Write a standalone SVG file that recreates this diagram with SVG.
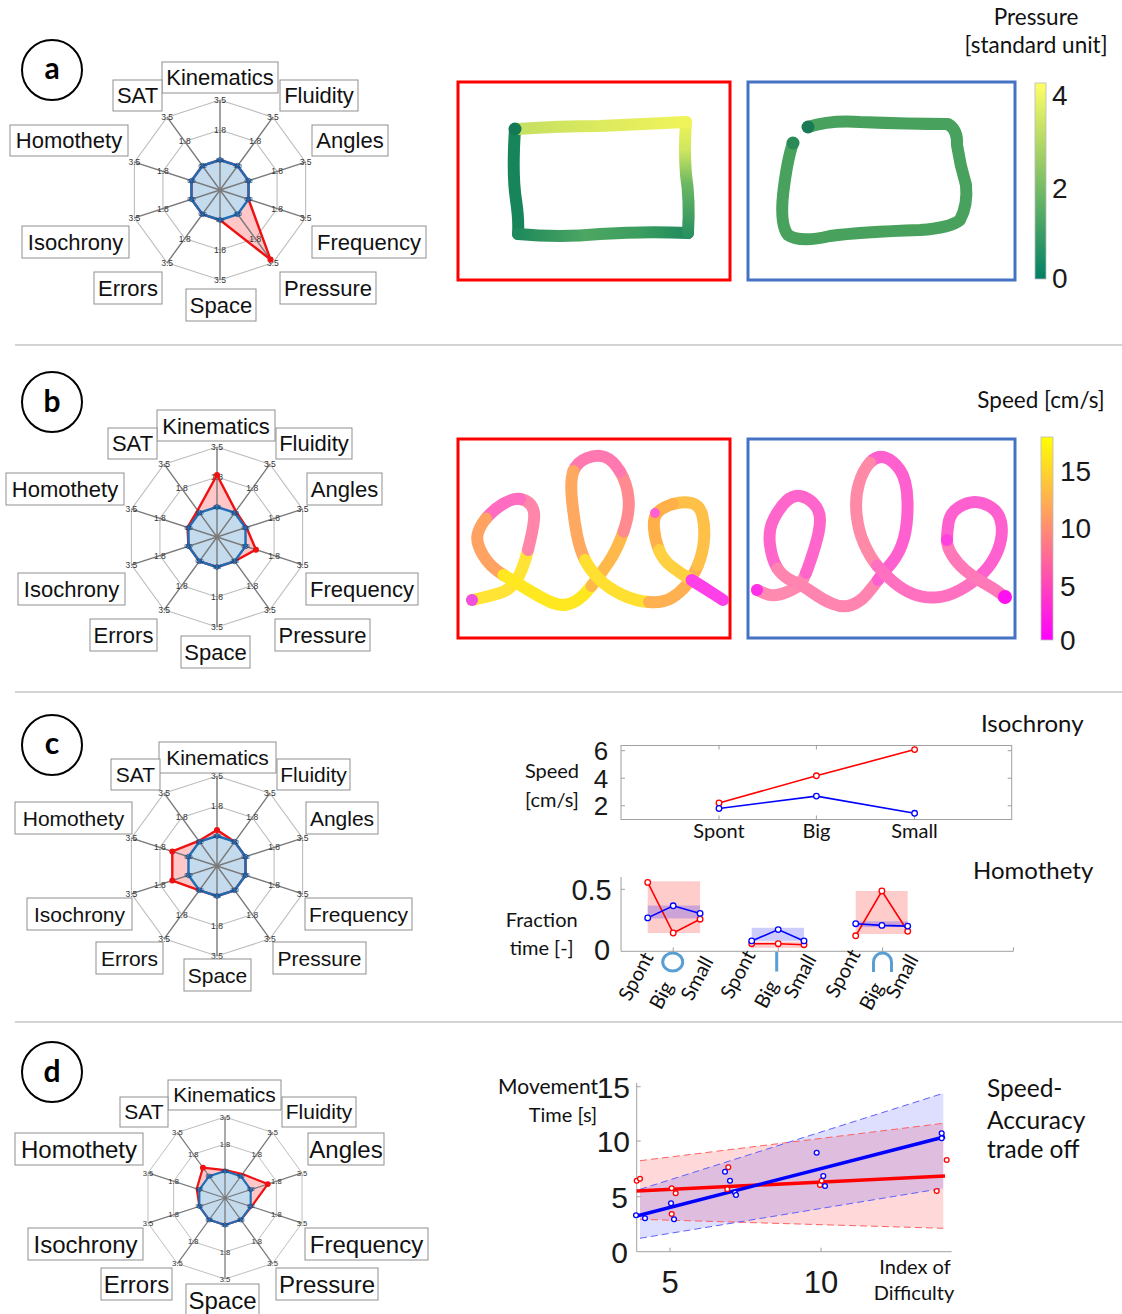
<svg xmlns="http://www.w3.org/2000/svg" width="1122" height="1314" viewBox="0 0 1122 1314">
<style>
.ring{fill:none;stroke:#bdbdbd;stroke-width:1.1}
.spk{fill:none;stroke:#7a7a7a;stroke-width:1.4}
.tk{font-family:"Liberation Sans",Arial,sans-serif;font-size:8.5px;fill:#333;text-anchor:middle}
.t0{font-family:"Liberation Sans",Arial,sans-serif;font-size:6px;fill:#1a3f70;text-anchor:middle}
.bf{fill:#c4dbee}
.bs{fill:none;stroke:#1f6db5;stroke-width:2.4;stroke-linejoin:round}
.bm{fill:none;stroke:#1a5a9a;stroke-width:1}
.rf{fill:#ff0000;fill-opacity:.22}
.rs{fill:none;stroke:#ee1111;stroke-width:2.4;stroke-linejoin:round}
.rd{fill:#ee1111}
.box{fill:#fff;stroke:#8f8f8f;stroke-width:1}
.lab{font-family:"Liberation Sans",Arial,sans-serif;font-size:22px;fill:#111;text-anchor:middle}
.l21{font-size:21px}
.l24{font-size:24px}
.pc{fill:#fff;stroke:#000;stroke-width:2}
.pl{font-family:Lato,"Open Sans",sans-serif;font-weight:bold;font-size:30px;text-anchor:middle;fill:#000}
.cal{font-family:Lato,"Open Sans",sans-serif;font-size:20px;fill:#111}
.c21{font-size:21px}
.c22{font-size:22.5px}
.c24{font-size:24px}
.c25{font-size:24.5px}
.mid{text-anchor:middle}
.end{text-anchor:end}
.num{font-family:"Liberation Sans",Arial,sans-serif;fill:#1a1a1a}
.sep{stroke:#c4c4c4;stroke-width:1.5}
.ax{fill:none;stroke:#a0a0a0;stroke-width:1}
.ink{fill:none;stroke-linecap:round;stroke-linejoin:round;stroke-width:12}
.pr{fill:#fff;stroke:#ff0000;stroke-width:1.3}
.pb{fill:#fff;stroke:#0000ff;stroke-width:1.3}
.lr{fill:none;stroke:#ff0000;stroke-width:1.6}
.lb{fill:none;stroke:#0000ff;stroke-width:1.6}
.sym{fill:none;stroke:#5a9fd4;stroke-width:3}
</style>
<defs>
<linearGradient id="cbA" x1="0" y1="1" x2="0" y2="0"><stop offset="0" stop-color="#008066"/><stop offset="1" stop-color="#ffff66"/></linearGradient>
<linearGradient id="cbB" x1="0" y1="1" x2="0" y2="0"><stop offset="0" stop-color="#ff00ff"/><stop offset="1" stop-color="#ffff00"/></linearGradient>
<linearGradient id="gTop" gradientUnits="userSpaceOnUse" x1="515" y1="0" x2="686" y2="0"><stop offset="0" stop-color="#c4df62"/><stop offset=".5" stop-color="#dcea5e"/><stop offset="1" stop-color="#f0f45a"/></linearGradient>
<linearGradient id="gRight" gradientUnits="userSpaceOnUse" x1="0" y1="234" x2="0" y2="122"><stop offset="0" stop-color="#2a9160"/><stop offset=".45" stop-color="#6db862"/><stop offset=".75" stop-color="#cfe65e"/><stop offset="1" stop-color="#eef45a"/></linearGradient>
<linearGradient id="gBot" gradientUnits="userSpaceOnUse" x1="518" y1="0" x2="688" y2="0"><stop offset="0" stop-color="#1f8a5c"/><stop offset=".4" stop-color="#4da662"/><stop offset=".7" stop-color="#3d9e60"/><stop offset="1" stop-color="#1f8a5c"/></linearGradient>
<g id="rings">
<polygon class="ring" points="0,-90 52.9,-72.81 85.6,-27.81 85.6,27.81 52.9,72.81 0,90 -52.9,72.81 -85.6,27.81 -85.6,-27.81 -52.9,-72.81"/>
<polygon class="ring" points="0,-60 35.27,-48.54 57.07,-18.54 57.07,18.54 35.27,48.54 0,60 -35.27,48.54 -57.07,18.54 -57.07,-18.54 -35.27,-48.54"/>
</g>
<polygon id="bpoly" points="0,-30 17.63,-24.27 28.53,-9.27 28.53,9.27 17.63,24.27 0,30 -17.63,24.27 -28.53,9.27 -28.53,-9.27 -17.63,-24.27"/>
<g id="spokes">
<path class="spk" d="M0,0L0,-90M0,0L52.9,-72.81M0,0L85.6,-27.81M0,0L85.6,27.81M0,0L52.9,72.81M0,0L0,90M0,0L-52.9,72.81M0,0L-85.6,27.81M0,0L-85.6,-27.81M0,0L-52.9,-72.81"/>
<g class="tk">
<text x="0" y="-87">3.5</text><text x="52.9" y="-69.81">3.5</text><text x="85.6" y="-24.81">3.5</text><text x="85.6" y="30.81">3.5</text><text x="52.9" y="75.81">3.5</text><text x="0" y="93">3.5</text><text x="-52.9" y="75.81">3.5</text><text x="-85.6" y="30.81">3.5</text><text x="-85.6" y="-24.81">3.5</text><text x="-52.9" y="-69.81">3.5</text>
<text x="0" y="-57">1.8</text><text x="35.27" y="-45.54">1.8</text><text x="57.07" y="-15.54">1.8</text><text x="57.07" y="21.54">1.8</text><text x="35.27" y="51.54">1.8</text><text x="0" y="63">1.8</text><text x="-35.27" y="51.54">1.8</text><text x="-57.07" y="21.54">1.8</text><text x="-57.07" y="-15.54">1.8</text><text x="-35.27" y="-45.54">1.8</text>
</g>
</g>
<g id="bmk">
<g class="bm"><circle cx="0" cy="-30" r="2.4"/><circle cx="17.63" cy="-24.27" r="2.4"/><circle cx="28.53" cy="-9.27" r="2.4"/><circle cx="28.53" cy="9.27" r="2.4"/><circle cx="17.63" cy="24.27" r="2.4"/><circle cx="0" cy="30" r="2.4"/><circle cx="-17.63" cy="24.27" r="2.4"/><circle cx="-28.53" cy="9.27" r="2.4"/><circle cx="-28.53" cy="-9.27" r="2.4"/><circle cx="-17.63" cy="-24.27" r="2.4"/></g>
<g class="t0"><text x="0" y="-28">0.0</text><text x="17.63" y="-22.27">0.0</text><text x="28.53" y="-7.27">0.0</text><text x="28.53" y="11.27">0.0</text><text x="17.63" y="26.27">0.0</text><text x="0" y="32">0.0</text><text x="-17.63" y="26.27">0.0</text><text x="-28.53" y="11.27">0.0</text><text x="-28.53" y="-7.27">0.0</text><text x="-17.63" y="-22.27">0.0</text></g>
</g>
</defs>
<rect width="1122" height="1314" fill="#fff"/>

<g id="separators">
<line class="sep" x1="15" y1="345" x2="1122" y2="345"/>
<line class="sep" x1="15" y1="692" x2="1122" y2="692"/>
<line class="sep" x1="15" y1="1022" x2="1122" y2="1022"/>
</g>

<g id="label-a"><circle class="pc" cx="52" cy="70" r="30"/><text class="pl" x="52" y="79">a</text></g>
<g id="label-b"><circle class="pc" cx="52" cy="402" r="30"/><text class="pl" x="52" y="412">b</text></g>
<g id="label-c"><circle class="pc" cx="52" cy="745" r="30"/><text class="pl" x="52" y="754">c</text></g>
<g id="label-d"><circle class="pc" cx="52" cy="1072" r="30"/><text class="pl" x="52" y="1082">d</text></g>

<g id="radar-a" transform="translate(220,190)">
<use href="#rings"/>
<polygon class="rf" points="0,-30 17.63,-24.27 28.53,-9.27 28.53,9.27 50.55,69.57 0,30 -17.63,24.27 -28.53,9.27 -28.53,-9.27 -17.63,-24.27"/>
<use href="#bpoly" class="bf"/>
<use href="#spokes"/>
<polygon class="rs" points="0,-30 17.63,-24.27 28.53,-9.27 28.53,9.27 50.55,69.57 0,30 -17.63,24.27 -28.53,9.27 -28.53,-9.27 -17.63,-24.27"/>
<use href="#bpoly" class="bs"/>
<use href="#bmk"/>
<circle class="rd" cx="50.55" cy="69.57" r="3"/>
</g>
<g id="labels-a">
<rect class="box" x="162" y="62" width="116" height="31"/><text class="lab" x="220" y="85">Kinematics</text>
<rect class="box" x="113" y="80" width="49" height="31"/><text class="lab" x="137.5" y="103">SAT</text>
<rect class="box" x="280" y="80" width="78" height="31"/><text class="lab" x="319" y="103">Fluidity</text>
<rect class="box" x="10" y="125" width="118" height="31"/><text class="lab" x="69" y="148">Homothety</text>
<rect class="box" x="312" y="125" width="76" height="31"/><text class="lab" x="350" y="148">Angles</text>
<rect class="box" x="22" y="226" width="107" height="32"/><text class="lab" x="75.5" y="250">Isochrony</text>
<rect class="box" x="312" y="226" width="114" height="32"/><text class="lab" x="369" y="250">Frequency</text>
<rect class="box" x="94" y="272" width="68" height="32"/><text class="lab" x="128" y="296">Errors</text>
<rect class="box" x="280" y="272" width="96" height="32"/><text class="lab" x="328" y="296">Pressure</text>
<rect class="box" x="186" y="289" width="70" height="32"/><text class="lab" x="221" y="313">Space</text>
</g>

<g id="radar-b" transform="translate(217,537)">
<use href="#rings"/>
<polygon class="rf" points="0,-62 18.81,-25.89 29.48,-9.58 38.99,12.67 17.63,24.27 0,30 -17.63,24.27 -28.53,9.27 -29.48,-9.58 -19.4,-26.7"/>
<use href="#bpoly" class="bf"/>
<use href="#spokes"/>
<polygon class="rs" points="0,-62 18.81,-25.89 29.48,-9.58 38.99,12.67 17.63,24.27 0,30 -17.63,24.27 -28.53,9.27 -29.48,-9.58 -19.4,-26.7"/>
<use href="#bpoly" class="bs"/>
<use href="#bmk"/>
<circle class="rd" cx="0" cy="-62" r="3"/><circle class="rd" cx="38.99" cy="12.67" r="3"/>
</g>
<g id="labels-b">
<rect class="box" x="157" y="410" width="118" height="31"/><text class="lab" x="216" y="434">Kinematics</text>
<rect class="box" x="108" y="428" width="49" height="31"/><text class="lab" x="132.5" y="451">SAT</text>
<rect class="box" x="276" y="428" width="76" height="31"/><text class="lab" x="314" y="451">Fluidity</text>
<rect class="box" x="6" y="473" width="118" height="32"/><text class="lab" x="65" y="497">Homothety</text>
<rect class="box" x="307" y="473" width="75" height="32"/><text class="lab" x="344.5" y="497">Angles</text>
<rect class="box" x="18" y="573" width="107" height="32"/><text class="lab" x="71.5" y="597">Isochrony</text>
<rect class="box" x="306" y="573" width="112" height="32"/><text class="lab" x="362" y="597">Frequency</text>
<rect class="box" x="90" y="619" width="67" height="32"/><text class="lab" x="123.5" y="643">Errors</text>
<rect class="box" x="275" y="619" width="95" height="32"/><text class="lab" x="322.5" y="643">Pressure</text>
<rect class="box" x="181" y="636" width="69" height="32"/><text class="lab" x="215.5" y="660">Space</text>
</g>

<g id="radar-c" transform="translate(217,866)">
<use href="#rings"/>
<polygon class="rf" points="0,-36 17.63,-24.27 28.53,-9.27 28.53,9.27 17.63,24.27 0,30 -17.63,24.27 -44.7,14.52 -44.7,-14.52 -18.22,-25.08"/>
<use href="#bpoly" class="bf"/>
<use href="#spokes"/>
<polygon class="rs" points="0,-36 17.63,-24.27 28.53,-9.27 28.53,9.27 17.63,24.27 0,30 -17.63,24.27 -44.7,14.52 -44.7,-14.52 -18.22,-25.08"/>
<use href="#bpoly" class="bs"/>
<use href="#bmk"/>
<circle class="rd" cx="0" cy="-36" r="3"/><circle class="rd" cx="-44.7" cy="14.52" r="3"/><circle class="rd" cx="-44.7" cy="-14.52" r="3"/>
</g>
<g id="labels-c">
<rect class="box" x="159" y="742" width="117" height="31"/><text class="lab l21" x="217.5" y="765">Kinematics</text>
<rect class="box" x="111" y="759" width="49" height="31"/><text class="lab l21" x="135.5" y="782">SAT</text>
<rect class="box" x="277" y="759" width="73" height="31"/><text class="lab l21" x="313.5" y="782">Fluidity</text>
<rect class="box" x="15" y="802" width="117" height="32"/><text class="lab l21" x="73.5" y="826">Homothety</text>
<rect class="box" x="306" y="802" width="72" height="32"/><text class="lab l21" x="342" y="826">Angles</text>
<rect class="box" x="27" y="898" width="105" height="32"/><text class="lab l21" x="79.5" y="922">Isochrony</text>
<rect class="box" x="305" y="898" width="107" height="32"/><text class="lab l21" x="358.5" y="922">Frequency</text>
<rect class="box" x="96" y="942" width="67" height="32"/><text class="lab l21" x="129.5" y="966">Errors</text>
<rect class="box" x="273" y="942" width="93" height="32"/><text class="lab l21" x="319.5" y="966">Pressure</text>
<rect class="box" x="184" y="959" width="67" height="32"/><text class="lab l21" x="217.5" y="983">Space</text>
</g>

<g id="radar-d" transform="translate(225,1198) scale(0.9)">
<use href="#rings"/>
<polygon class="rf" points="0,-31 19.4,-26.7 47.55,-15.45 29.48,9.58 17.63,24.27 0,30 -17.63,24.27 -28.53,9.27 -31.39,-10.2 -24.51,-33.73"/>
<use href="#bpoly" class="bf"/>
<use href="#spokes"/>
<polygon class="rs" points="0,-31 19.4,-26.7 47.55,-15.45 29.48,9.58 17.63,24.27 0,30 -17.63,24.27 -28.53,9.27 -31.39,-10.2 -24.51,-33.73"/>
<use href="#bpoly" class="bs"/>
<use href="#bmk"/>
<circle class="rd" cx="-24.51" cy="-33.73" r="3.3"/><circle class="rd" cx="47.55" cy="-15.45" r="3.3"/>
</g>
<g id="labels-d">
<rect class="box" x="168" y="1080" width="113" height="30"/><text class="lab l21" x="224.5" y="1102">Kinematics</text>
<rect class="box" x="120" y="1097" width="48" height="30"/><text class="lab l21" x="144" y="1119">SAT</text>
<rect class="box" x="282" y="1097" width="74" height="30"/><text class="lab l21" x="319" y="1119">Fluidity</text>
<rect class="box" x="15" y="1133" width="128" height="32"/><text class="lab l24" x="79" y="1158">Homothety</text>
<rect class="box" x="308" y="1133" width="76" height="32"/><text class="lab l24" x="346" y="1158">Angles</text>
<rect class="box" x="28" y="1228" width="115" height="32"/><text class="lab l24" x="85.5" y="1253">Isochrony</text>
<rect class="box" x="305" y="1228" width="123" height="32"/><text class="lab l24" x="366.5" y="1253">Frequency</text>
<rect class="box" x="101" y="1268" width="71" height="32"/><text class="lab l24" x="136.5" y="1293">Errors</text>
<rect class="box" x="276" y="1268" width="102" height="32"/><text class="lab l24" x="327" y="1293">Pressure</text>
<rect class="box" x="186" y="1284" width="73" height="32"/><text class="lab l24" x="222.5" y="1309">Space</text>
</g>

<g id="rect-fast">
<rect x="458" y="82" width="272" height="198" fill="none" stroke="#ff0000" stroke-width="3"/>
<path class="ink" stroke="#17845a" d="M515,129 Q512,175 516,200 Q519,220 518,234"/>
<path class="ink" stroke="url(#gBot)" d="M518,234 Q560,238 600,234 Q645,231 688,233"/>
<path class="ink" stroke="url(#gRight)" d="M688,233 Q690,200 686,175 Q684,150 686,122"/>
<path class="ink" stroke="url(#gTop)" d="M517,129 Q560,126 600,126 Q645,124 686,122"/>
<circle cx="515" cy="129" r="6.5" fill="#137a55"/>
</g>
<g id="rect-slow">
<rect x="748" y="82" width="267" height="198" fill="none" stroke="#4472c4" stroke-width="3"/>
<path class="ink" stroke="#48a25e" d="M808,127 Q830,120 860,122 Q910,124 948,124 Q958,130 957,145 Q960,165 966,185 Q968,205 960,220 Q950,228 920,230 Q860,232 830,236 Q800,243 788,235 Q780,225 783,195 Q787,160 793,143"/>
<circle cx="808" cy="127" r="6.5" fill="#1a7a55"/>
<circle cx="793" cy="143" r="6.5" fill="#2a8a58"/>
</g>
<g id="colorbar-a">
<text class="cal c22 mid" x="1036" y="25">Pressure</text>
<text class="cal c22 mid" x="1036" y="53">[standard unit]</text>
<rect x="1035" y="83" width="11" height="196" fill="url(#cbA)" stroke="#bbb" stroke-width=".8"/>
<g class="num" font-size="28"><text x="1052" y="105">4</text><text x="1052" y="198">2</text><text x="1052" y="288">0</text></g>
</g>

<g id="ele-fast">
<rect x="458" y="439" width="272" height="199" fill="none" stroke="#ff0000" stroke-width="3"/>
<g class="ink">
<path stroke="#ffe436" d="M472,600 L481,598 Q490,596 500,593 Q510,590 516.5,580 Q523,570 528,550"/>
<path stroke="#ff86a8" d="M528,550 Q533,530 534,520 Q535,510 531,505 Q527,500 520,499"/>
<path stroke="#ff6cc0" d="M520,499 Q513,498 503,504 Q493,510 486,518.5"/>
<path stroke="#ffa262" d="M486,518.5 Q479,527 477.5,535 Q476,543 483,555 Q490,567 503.5,575"/>
<path stroke="#ffe820" d="M503.5,575 Q517,583 533.5,593 Q550,603 558.5,604.5 Q567,606 575,601.5 Q583,597 591.5,586"/>
<path stroke="#ffb84a" d="M591.5,586 Q600,575 608.5,562.5 Q617,550 623.5,531.5"/>
<path stroke="#ff8a90" d="M623.5,531.5 Q630,513 628.5,498 Q627,483 620,471.5"/>
<path stroke="#ff78b0" d="M620,471.5 Q613,460 605,457 Q597,454 587,458 Q577,462 573.5,471"/>
<path stroke="#ffa860" d="M573.5,471 Q570,480 572,500 Q574,520 577,535 Q580,550 585,560"/>
<path stroke="#ffe030" d="M585,560 Q590,570 599,579 Q608,588 621.5,594.5 Q635,601 649,602"/>
<path stroke="#ffb050" d="M649,602 Q663,603 671.5,598 Q680,593 686.5,585 Q693,577 698,565"/>
<path stroke="#ffc048" d="M698,565 Q703,553 704,540 Q705,527 702.5,516 Q700,505 691.5,503 Q683,501 673,504"/>
<path stroke="#ffb048" d="M673,504 Q663,507 658,512 Q653,517 654,528.5 Q655,540 659,550"/>
<path stroke="#ffd040" d="M659,550 Q663,560 671.5,566.5 Q680,573 691.5,580"/>
<path stroke="#ff40e8" d="M691.5,580 Q703,587 713,593.5 L723,600"/>
</g>
<circle cx="472" cy="600" r="6" fill="#f050e0"/>
<circle cx="655" cy="513" r="5" fill="#ff60d0"/>
</g>
<g id="ele-slow">
<rect x="748" y="439" width="267" height="199" fill="none" stroke="#4472c4" stroke-width="3"/>
<g class="ink">
<path stroke="#ff8ab0" d="M757,590 L765,593.5 Q773,597 783,593.5 Q793,590 797.5,586.5 Q802,583 806,573"/>
<path stroke="#ff66cc" d="M806,573 Q810,563 815,546.5 Q820,530 820,520 Q820,510 813.5,503.5 Q807,497 800,496 Q793,495 786.5,501 Q780,507 774,518.5 Q768,530 770,545 Q772,560 777.5,568.5"/>
<path stroke="#ff84b0" d="M777.5,568.5 Q783,577 792.5,581 Q802,585 812.5,592.5 Q823,600 833,604 Q843,608 851.5,605 Q860,602 866.5,594.5 Q873,587 878,580"/>
<path stroke="#ff60d0" d="M878,580 Q883,573 891.5,563 Q900,553 904,538 Q908,523 907.5,501.5 Q907,480 900,470 Q893,460 885,457.5 Q877,455 870,462.5"/>
<path stroke="#ff8aa8" d="M870,462.5 Q863,470 859,483.5 Q855,497 856.5,513.5 Q858,530 864,543.5 Q870,557 877,565.5"/>
<path stroke="#ff70c0" d="M877,565.5 Q884,574 893.5,582 Q903,590 913,594 Q923,598 935,597.5 Q947,597 960,590 Q973,583 983,573"/>
<path stroke="#ff60d0" d="M983,573 Q993,563 998,550 Q1003,537 1001.5,525 Q1000,513 991.5,507.5 Q983,502 975,502 Q967,502 958.5,507.5 Q950,513 948.5,523 Q947,533 947,540"/>
<path stroke="#ff78b8" d="M947,540 Q947,547 952,555 Q957,563 965,570 Q973,577 983,582.5 Q993,588 999,592.5 L1005,597"/>
</g>
<circle cx="757" cy="590" r="6" fill="#ff30e8"/>
<circle cx="1005" cy="597" r="7" fill="#ff10f0"/>
<circle cx="947" cy="540" r="6" fill="#ff40e0"/>
</g>
<g id="colorbar-b">
<text class="cal c22 mid" x="1041" y="408">Speed [cm/s]</text>
<rect x="1041" y="437" width="12" height="203" fill="url(#cbB)" stroke="#bbb" stroke-width=".8"/>
<g class="num" font-size="28"><text x="1060" y="481">15</text><text x="1060" y="538">10</text><text x="1060" y="596">5</text><text x="1060" y="650">0</text></g>
</g>

<g id="isochrony-plot">
<text class="cal c24" x="981" y="732">Isochrony</text>
<rect class="ax" x="621" y="745.5" width="390.7" height="74"/>
<path class="ax" d="M621,750.7h4M621,778.2h4M621,805.8h4M1011.7,750.7h-4M1011.7,778.2h-4M1011.7,805.8h-4M719,819.5v-4M816.4,819.5v-4M914.6,819.5v-4M719,745.5v4M816.4,745.5v4M914.6,745.5v4"/>
<g class="num mid" font-size="26"><text x="601" y="760">6</text><text x="601" y="787.5">4</text><text x="601" y="815">2</text></g>
<text class="cal mid" x="552" y="778">Speed</text>
<text class="cal mid" x="552" y="807">[cm/s]</text>
<text class="cal mid" x="719" y="838">Spont</text>
<text class="cal mid" x="816.4" y="838">Big</text>
<text class="cal mid" x="914.6" y="838">Small</text>
<polyline class="lr" points="719,803 816.4,775.8 914.6,749.6"/>
<polyline class="lb" points="719,808.5 816.4,796.1 914.6,813.3"/>
<circle class="pr" cx="719" cy="803" r="2.8"/><circle class="pr" cx="816.4" cy="775.8" r="2.8"/><circle class="pr" cx="914.6" cy="749.6" r="2.8"/>
<circle class="pb" cx="719" cy="808.5" r="2.8"/><circle class="pb" cx="816.4" cy="796.1" r="2.8"/><circle class="pb" cx="914.6" cy="813.3" r="2.8"/>
</g>

<g id="homothety-plot">
<text class="cal c24" x="973" y="879">Homothety</text>
<path class="ax" d="M621,877V951.3H1013.4M621,889.3h4M673.2,951.3v-4M778.2,951.3v-4M882.6,951.3v-4M1013.4,951.3v-4"/>
<g class="num mid" font-size="29"><text x="591.6" y="899.5">0.5</text><text x="602" y="960">0</text></g>
<text class="cal mid" x="541.7" y="927">Fraction</text>
<text class="cal mid" x="541.7" y="955">time [-]</text>
<g fill="#ff0000" fill-opacity=".2">
<rect x="647.7" y="881.3" width="52.4" height="51.7"/>
<rect x="751.7" y="941.6" width="52.3" height="6.2"/>
<rect x="855.7" y="891" width="52" height="43"/>
</g>
<g fill="#0000ff" fill-opacity=".2">
<rect x="647.7" y="905.5" width="52.4" height="13"/>
<rect x="751.7" y="927.8" width="52.3" height="13.1"/>
<rect x="855.7" y="921.3" width="52" height="5.8"/>
</g>
<polyline class="lr" points="647.7,882.4 673.2,933 700.1,919.2"/>
<polyline class="lb" points="647.7,917.9 673.2,905.8 700.1,913.4"/>
<polyline class="lr" points="751.7,943.7 778.2,943.7 804,944.7"/>
<polyline class="lb" points="751.7,940.9 778.2,929.6 804,940.9"/>
<polyline class="lr" points="855.7,935.8 881.9,891 907.7,931.3"/>
<polyline class="lb" points="855.7,923.7 881.9,925.4 907.7,926.1"/>
<g class="pr"><circle cx="647.7" cy="882.4" r="2.8"/><circle cx="673.2" cy="933" r="2.8"/><circle cx="700.1" cy="919.2" r="2.8"/><circle cx="751.7" cy="943.7" r="2.8"/><circle cx="778.2" cy="943.7" r="2.8"/><circle cx="804" cy="944.7" r="2.8"/><circle cx="855.7" cy="935.8" r="2.8"/><circle cx="881.9" cy="891" r="2.8"/><circle cx="907.7" cy="931.3" r="2.8"/></g>
<g class="pb"><circle cx="647.7" cy="917.9" r="2.8"/><circle cx="673.2" cy="905.8" r="2.8"/><circle cx="700.1" cy="913.4" r="2.8"/><circle cx="751.7" cy="940.9" r="2.8"/><circle cx="778.2" cy="929.6" r="2.8"/><circle cx="804" cy="940.9" r="2.8"/><circle cx="855.7" cy="923.7" r="2.8"/><circle cx="881.9" cy="925.4" r="2.8"/><circle cx="907.7" cy="926.1" r="2.8"/></g>
<g class="cal end">
<text transform="translate(654,957) rotate(-62)">Spont</text>
<text transform="translate(674,986) rotate(-62)">Big</text>
<text transform="translate(714,961) rotate(-62)">Small</text>
<text transform="translate(756,955) rotate(-62)">Spont</text>
<text transform="translate(779,985) rotate(-62)">Big</text>
<text transform="translate(817,959) rotate(-62)">Small</text>
<text transform="translate(861,954) rotate(-62)">Spont</text>
<text transform="translate(884,987) rotate(-62)">Big</text>
<text transform="translate(919,959) rotate(-62)">Small</text>
</g>
<ellipse class="sym" cx="672.7" cy="962" rx="10" ry="9"/>
<line class="sym" x1="776.7" y1="952" x2="776.7" y2="971.5"/>
<path class="sym" d="M873.5,972V962A9,9 0 0 1 891.5,962V972"/>
</g>

<g id="sat-plot">
<polygon points="640,1160.7 943.3,1123.3 943.3,1228.3 640,1219.3" fill="#ff0000" fill-opacity=".15"/>
<polygon points="640,1189.3 943.3,1093.3 943.3,1188.3 640,1238.3" fill="#0000ff" fill-opacity=".13"/>
<g fill="none" stroke-width="1" stroke-dasharray="7,4">
<path stroke="#ff6060" d="M640,1160.7L943.3,1123.3M640,1219.3L943.3,1228.3"/>
<path stroke="#6060ff" d="M640,1189.3L943.3,1093.3M640,1238.3L943.3,1188.3"/>
</g>
<path class="ax" d="M636.7,1083V1251.7H951.7M670,1251.7v-4M821,1251.7v-4M636.7,1086.7h4M636.7,1141h4M636.7,1196.7h4"/>
<line x1="636.7" y1="1191" x2="945" y2="1176" stroke="#ff0000" stroke-width="3.5"/>
<line x1="636.7" y1="1216" x2="945" y2="1136.7" stroke="#0000ff" stroke-width="3.5"/>
<g class="pr"><circle cx="636.7" cy="1180.7" r="2.4"/><circle cx="640" cy="1178.7" r="2.4"/><circle cx="671.7" cy="1188.3" r="2.4"/><circle cx="675.7" cy="1193.3" r="2.4"/><circle cx="671.7" cy="1214" r="2.4"/><circle cx="728.3" cy="1167.3" r="2.4"/><circle cx="727.3" cy="1189.3" r="2.4"/><circle cx="820" cy="1185" r="2.4"/><circle cx="821.7" cy="1180.7" r="2.4"/><circle cx="936.7" cy="1191" r="2.4"/><circle cx="946.7" cy="1160" r="2.4"/></g>
<g class="pb"><circle cx="636" cy="1215.3" r="2.4"/><circle cx="645" cy="1218.3" r="2.4"/><circle cx="671" cy="1203.3" r="2.4"/><circle cx="674" cy="1219.3" r="2.4"/><circle cx="725" cy="1171.7" r="2.4"/><circle cx="730" cy="1180.7" r="2.4"/><circle cx="735" cy="1192.7" r="2.4"/><circle cx="736" cy="1195" r="2.4"/><circle cx="816.7" cy="1152.7" r="2.4"/><circle cx="823.3" cy="1176" r="2.4"/><circle cx="825" cy="1186" r="2.4"/><circle cx="941.7" cy="1133.3" r="2.4"/><circle cx="941.7" cy="1138.3" r="2.4"/></g>
<g class="num end" font-size="30"><text x="630" y="1097.5">15</text><text x="630" y="1152">10</text><text x="628" y="1207.5">5</text><text x="628" y="1262.5">0</text></g>
<g class="num mid" font-size="31"><text x="670" y="1293">5</text><text x="821" y="1293">10</text></g>
<text class="cal c21 end" x="598" y="1094">Movement</text>
<text class="cal mid" x="563" y="1122">Time [s]</text>
<text class="cal mid" x="915" y="1274">Index of</text>
<text class="cal mid" x="914" y="1300">Difficulty</text>
<g class="cal c25"><text x="987" y="1097">Speed-</text><text x="987" y="1129">Accuracy</text><text x="987" y="1158">trade off</text></g>
</g>
</svg>
